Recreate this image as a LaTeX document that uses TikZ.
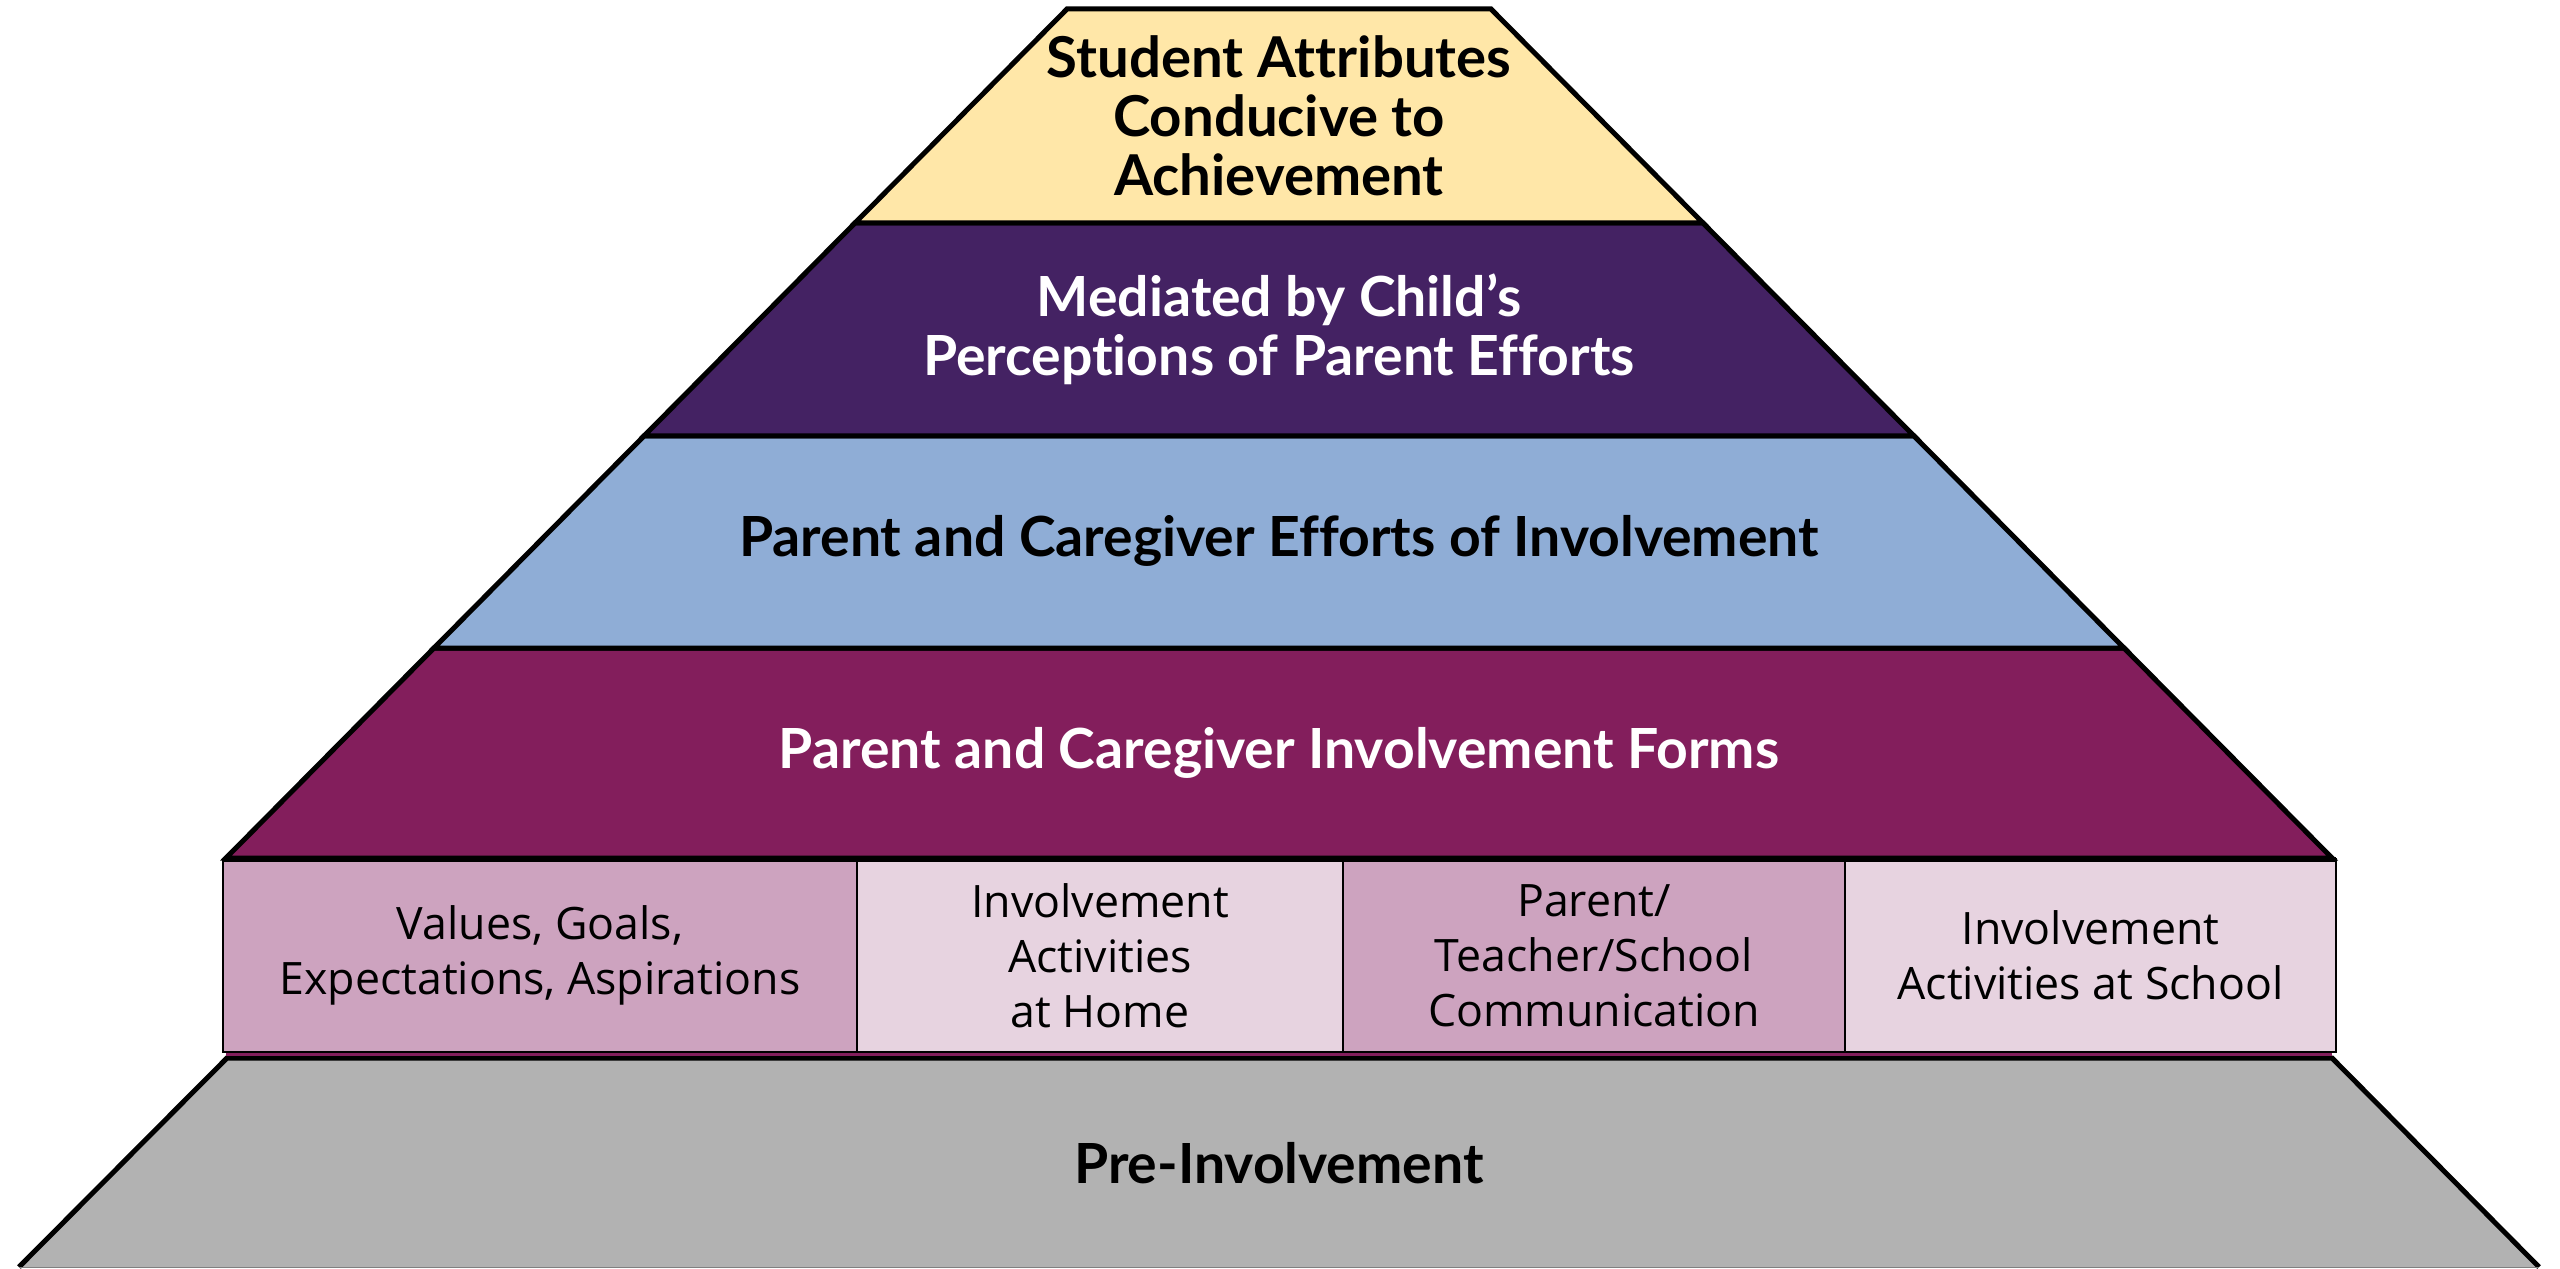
\documentclass[tikz,border=0pt]{standalone}
\usepackage{fontspec}
\setmainfont[Ligatures=NoCommon]{Lato}
\newfontfamily\cellfont{Open Sans}
\definecolor{cyellow}{HTML}{FFE7A8}
\definecolor{cpurple}{HTML}{442263}
\definecolor{cblue}{HTML}{8FADD6}
\definecolor{cmaroon}{HTML}{831E5C}
\definecolor{cdark}{HTML}{CDA3BF}
\definecolor{clight}{HTML}{E7D3E0}
\definecolor{cgray}{HTML}{B2B2B2}
\tikzset{
  band/.style={draw=black, line width=1.5pt, line join=miter},
  title/.style={font=\fontsize{16.6pt}{17.7pt}\selectfont\bfseries, align=center, inner sep=0pt},
  cell/.style={draw=black, line width=0.6pt, inner sep=0pt, outer sep=0pt,
    minimum height=57.9pt, align=center, font=\cellfont\fontsize{13.4pt}{16.5pt}\selectfont},
}
\begin{document}
\begin{tikzpicture}[x=0.3pt, y=-0.3pt]
\useasboundingbox (0,0) rectangle (2560,1269);
% gray base
\fill[cgray] (227,1058) -- (2332,1058) -- (2539,1267) -- (19,1267) -- cycle;
\draw[line width=1.5pt, line join=miter] (19,1267) -- (227,1058) -- (2332,1058) -- (2539,1267);
\draw[line width=0.3pt, draw=gray] (19,1267) -- (2539,1267);
% maroon strip under boxes
\fill[cmaroon] (226,1048) rectangle (2332,1056);
% bands
\filldraw[band, fill=cmaroon] (434,648) -- (2124,648) -- (2332,858) -- (226,858) -- cycle;
\filldraw[band, fill=cblue] (644,436) -- (1914,436) -- (2124,648) -- (434,648) -- cycle;
\filldraw[band, fill=cpurple] (855,223) -- (1703,223) -- (1914,436) -- (644,436) -- cycle;
\filldraw[band, fill=cyellow] (1067,9) -- (1491,9) -- (1703,223) -- (855,223) -- cycle;
% boxes
\node[cell, fill=cdark, minimum width=190.2pt] (b1) at (540,955.5) {Values, Goals,\\Expectations, Aspirations};
\node[cell, fill=clight, minimum width=145.8pt] (b2) at (1100,955.5) {Involvement\\Activities\\at Home};
\node[cell, fill=cdark, minimum width=150.6pt] (b3) at (1594,955.5) {Parent/\\Teacher/School\\Communication};
\node[cell, fill=clight, minimum width=147.3pt] (b4) at (2090.5,955.5) {Involvement\\Activities at School};
\draw[line width=1.5pt] (b1.north west) -- (b4.north east);
% titles
\node[title, font=\fontsize{16.9pt}{17.7pt}\selectfont\bfseries] (t1) at (1279,116) {Student Attributes\\Conducive to\\Achievement};
\node[title, text=white] (t2) at (1279,329) {Mediated by Child’s\\Perceptions of Parent Efforts};
\node[title] (t3) at (1279,541) {Parent and Caregiver Efforts of Involvement};
\node[title, text=white] (t4) at (1279,753) {Parent and Caregiver Involvement Forms};
\node[title] (t5) at (1279,1163) {Pre-Involvement};
\end{tikzpicture}
\end{document}
